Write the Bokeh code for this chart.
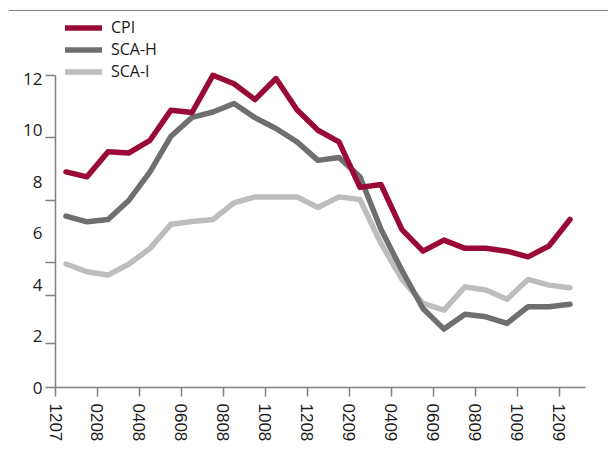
from bokeh.plotting import figure
from bokeh.models import (FixedTicker, LinearAxis, Legend, LegendItem, Range1d,
                          CustomJSTickFormatter)
from bokeh.embed import file_html
from bokeh.resources import INLINE

# Months (MMYY), monthly data Dec 2007 - Dec 2009
months = ["1207", "0108", "0208", "0308", "0408", "0508", "0608", "0708", "0808",
          "0908", "1008", "1108", "1208", "0109", "0209", "0309", "0409", "0509",
          "0609", "0709", "0809", "0909", "1009", "1109", "1209"]

cpi = [8.38, 8.19, 9.16, 9.12, 9.61, 10.78, 10.69, 12.14, 11.81, 11.19, 12.01, 10.80,
       10.0, 9.55, 7.78, 7.89, 6.14, 5.30, 5.73, 5.41, 5.41, 5.30, 5.08, 5.50, 6.53]
sca_h = [6.66, 6.44, 6.53, 7.28, 8.38, 9.77, 10.50, 10.71, 11.04, 10.49, 10.07, 9.55,
         8.83, 8.94, 8.19, 6.15, 4.55, 3.07, 2.27, 2.85, 2.75, 2.49, 3.14, 3.14, 3.24]
sca_i = [4.80, 4.50, 4.37, 4.80, 5.41, 6.35, 6.45, 6.53, 7.18, 7.41, 7.41, 7.41,
         7.0, 7.41, 7.31, 5.6, 4.2, 3.27, 3.01, 3.91, 3.79, 3.43, 4.20, 3.98, 3.88]

y_label_ticks = [0, 2, 4, 6, 8, 10, 12]
y_mark_ticks = [0, 1.71, 3.56, 4.85, 7.28, 9.70, 12.13]
x_tick_idx = list(range(0, 25, 2))

x = [i + 0.5 for i in range(len(months))]

AX = "#808080"
TXT = "#1a1a1a"

p = figure(width=599, height=452, x_range=Range1d(0, 25.24), y_range=Range1d(0, 14.5),
           output_backend="svg", toolbar_location=None,
           min_border_left=46, min_border_right=23, min_border_top=3, min_border_bottom=76,
           styles={"border-top": "1.5px solid #808080", "margin-top": "10px",
                   "margin-left": "9px"})
p.grid.visible = False
p.outline_line_color = None
p.background_fill_color = "white"

LW = 5.5
r1 = p.line(x, cpi, line_width=LW, color="#9a0a36", line_cap="round", line_join="round")
r2 = p.line(x, sca_h, line_width=LW, color="#6f6f6f", line_cap="round", line_join="round")
r3 = p.line(x, sca_i, line_width=LW, color="#bdbdbd", line_cap="round", line_join="round")
p.renderers = [r3, r2, r1]

# inner y axis: tick marks only
ya = p.yaxis[0]
ya.bounds = (0, 12.13)
ya.ticker = FixedTicker(ticks=y_mark_ticks)
ya.formatter = CustomJSTickFormatter(code="return ''")
ya.major_label_standoff = 0
ya.major_tick_out = 10
ya.major_tick_in = 0
ya.minor_tick_line_color = None
ya.axis_line_color = AX
ya.axis_line_width = 1.5
ya.major_tick_line_color = AX
ya.major_tick_line_width = 1.5

# outer y axis: labels only
ya2 = LinearAxis(ticker=FixedTicker(ticks=y_label_ticks))
ya2.axis_line_color = None
ya2.major_tick_line_color = None
ya2.minor_tick_line_color = None
ya2.major_tick_out = 0
ya2.major_tick_in = 0
ya2.major_label_standoff = 3
ya2.major_label_text_font = "Open Sans"
ya2.major_label_text_font_size = "17px"
ya2.major_label_text_color = TXT
p.add_layout(ya2, "left")

xa = p.xaxis[0]
xa.ticker = FixedTicker(ticks=x_tick_idx)
xa.major_label_overrides = {i: months[i] for i in x_tick_idx}
xa.major_label_orientation = "vertical"
xa.major_label_text_font = "Liberation Sans"
xa.major_label_text_font_size = "17px"
xa.major_label_text_color = TXT
xa.major_label_standoff = 7
xa.major_tick_out = 9
xa.major_tick_in = 0
xa.minor_tick_line_color = None
xa.axis_line_color = AX
xa.axis_line_width = 1.5
xa.major_tick_line_color = AX
xa.major_tick_line_width = 1.5

legend = Legend(items=[LegendItem(label="CPI", renderers=[r1]),
                       LegendItem(label="SCA-H", renderers=[r2]),
                       LegendItem(label="SCA-I", renderers=[r3])],
                location=(10, 305), glyph_width=37, glyph_height=21, label_height=21,
                spacing=0, padding=0, margin=0, border_line_color=None,
                background_fill_alpha=0, label_standoff=9,
                label_text_font="Open Sans", label_text_font_size="16px",
                label_text_color=TXT)
p.add_layout(legend)

open("out.html", "w").write(file_html(p, INLINE))
